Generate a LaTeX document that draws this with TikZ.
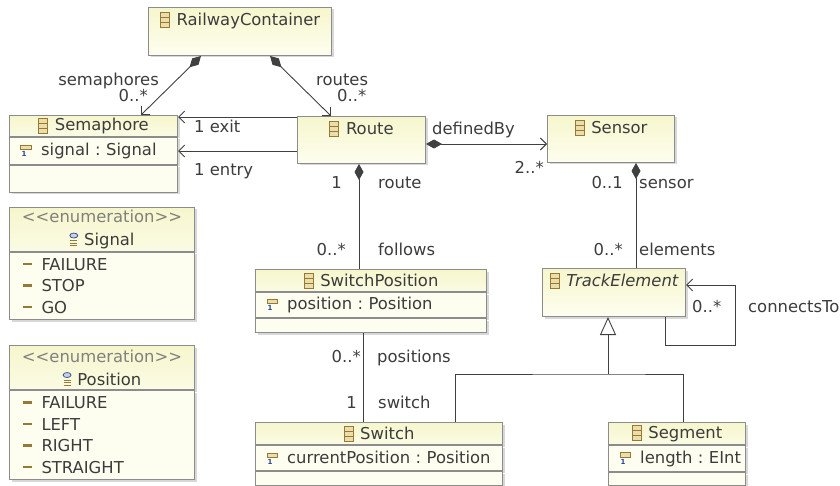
\documentclass[tikz,border=0pt]{standalone}
\usepackage{fontspec}
\setmainfont{DejaVu Sans}
\usetikzlibrary{positioning}
\usetikzlibrary{arrows.meta}
\usetikzlibrary{shadows}

\definecolor{boxline}{RGB}{140,140,140}
\definecolor{wirecol}{RGB}{64,64,64}
\definecolor{ink}{RGB}{60,60,60}
\definecolor{stereo}{RGB}{128,128,128}
\definecolor{hdtop}{RGB}{246,246,205}
\definecolor{hdbot}{RGB}{251,251,228}
\definecolor{rowfill}{RGB}{254,254,240}
\definecolor{icnbrown}{RGB}{150,120,55}
\definecolor{icnfill}{RGB}{236,222,170}
\definecolor{iconblue}{RGB}{40,70,140}

\newcommand{\clsicon}{\tikz[baseline=0pt]{\draw[icnbrown, fill=icnfill, line width=0.7pt] (0pt,-2pt) rectangle (9pt,13pt); \draw[icnbrown, line width=0.7pt] (0pt,3pt) -- (9pt,3pt) (0pt,8pt) -- (9pt,8pt);}}
\newcommand{\attricon}{\rlap{\raisebox{-1pt}{\fontsize{7}{7}\selectfont\bfseries\color{iconblue}\hspace{1pt}1}}\tikz[baseline=0pt]{\draw[icnbrown, fill=icnfill, line width=0.7pt] (0pt,6pt) rectangle (10pt,10.5pt);}}
\newcommand{\liticon}{\tikz[baseline=0pt]{\fill[icnbrown] (0pt,5pt) rectangle (9pt,7.5pt);}}
\newcommand{\enumicon}{\tikz[baseline=0pt]{\draw[icnbrown, line width=0.8pt] (1pt,0pt) -- (8pt,0pt) (1pt,2.5pt) -- (8pt,2.5pt) (1pt,5pt) -- (8pt,5pt); \draw[iconblue, fill=iconblue!25, line width=0.7pt] (4.5pt,10pt) ellipse [x radius=4pt, y radius=2.5pt];}}
\newcommand{\lit}[1]{\mbox{\hspace*{8pt}\liticon\hspace*{10pt}#1}}
\newcommand{\attr}[1]{\mbox{\hspace*{6pt}\attricon\hspace*{10pt}#1}}
\newcommand{\stereotype}{{\color{stereo}<\kern0pt<enumeration>\kern0pt>}}

\tikzstyle{classbase} = [draw=boxline, line width=1pt, text=ink, font=\fontsize{16.4}{21.5}\selectfont\frenchspacing, inner xsep=5pt, inner ysep=0pt, drop shadow={shadow xshift=2pt, shadow yshift=-2pt, fill=black!30}]
\tikzstyle{classhead} = [classbase, top color=hdtop, bottom color=hdbot, align=center, minimum height=22pt]
\tikzstyle{enumhead} = [classhead, font=\fontsize{16.4}{23}\selectfont, minimum height=44pt]
\tikzstyle{classrow} = [classbase, fill=rowfill, align=left, minimum height=25pt]
\tikzstyle{plainclass} = [classbase, top color=hdtop, bottom color=rowfill, align=center, inner ysep=3pt, text height=15pt, text depth=27pt]
\tikzstyle{lbl} = [text=ink, font=\fontsize{16.4}{20}\selectfont, inner sep=0pt]
\tikzstyle{wire} = [draw=wirecol, line width=0.9pt]
\tikzstyle{assoc} = [wire, -{Straight Barb[length=6pt,width=12pt]}]
\tikzstyle{comp} = [wire, {Diamond[length=16pt,width=9pt]}-]
\tikzstyle{compnav} = [wire, {Diamond[length=16pt,width=9pt]}-{Straight Barb[length=6pt,width=12pt]}]
\tikzstyle{gen} = [wire, -{Triangle[open, length=18pt, width=16pt]}]

\begin{document}
\begin{tikzpicture}[x=1pt, y=-1pt]
  \useasboundingbox (0,0) rectangle (840,486);

  \node[plainclass, text width=173pt, anchor=north west] (rc) at (148,7) {\clsicon\hspace{7pt}RailwayContainer};

  \node[classhead, text width=158pt, minimum height=21pt, anchor=north west] (sem) at (9,115) {\clsicon\hspace{7pt}Semaphore};
  \node[classrow, text width=158pt, minimum height=27pt, below=0pt of sem] (semAttr) {\attr{signal : Signal}};
  \node[classrow, text width=158pt, minimum height=27pt, below=0pt of semAttr] (semOps) {};

  \node[plainclass, text width=118pt, text depth=26pt, anchor=north west] (route) at (297,116) {\clsicon\hspace{7pt}Route};
  \node[plainclass, text width=117pt, text depth=26pt, anchor=north west] (sensor) at (547,115) {\clsicon\hspace{7pt}Sensor};
  \node[plainclass, text width=133pt, anchor=north west] (te) at (542,268) {\clsicon\hspace{7pt}\itshape TrackElement};

  \node[classhead, text width=221pt, anchor=north west] (swpos) at (255,269) {\clsicon\hspace{7pt}SwitchPosition};
  \node[classrow, text width=221pt, below=0pt of swpos] (swposAttr) {\attr{position : Position}};
  \node[classrow, text width=221pt, minimum height=14pt, below=0pt of swposAttr] (swposOps) {};

  \node[classhead, text width=237pt, anchor=north west] (sw) at (255,422) {\clsicon\hspace{7pt}Switch};
  \node[classrow, text width=237pt, below=0pt of sw] (swAttr) {\attr{currentPosition : Position}};
  \node[classrow, text width=237pt, minimum height=14pt, below=0pt of swAttr] (swOps) {};

  \node[classhead, text width=127pt, anchor=north west] (seg) at (608,422) {\clsicon\hspace{7pt}Segment};
  \node[classrow, text width=127pt, minimum height=26pt, below=0pt of seg] (segAttr) {\attr{length : EInt}};
  \node[classrow, text width=127pt, minimum height=13pt, below=0pt of segAttr] (segOps) {};

  % enumerations
  \node[enumhead, text width=175pt, anchor=north west] (sigEnum) at (9,207) {\stereotype\\ \mbox{\enumicon\hspace{6pt}Signal}};
  \node[classrow, text width=175pt, minimum height=67pt, below=0pt of sigEnum] (sigLits) {\lit{FAILURE}\\ \lit{STOP}\\ \lit{GO}};

  \node[enumhead, text width=175pt, anchor=north west] (posEnum) at (9,345) {\stereotype\\ \mbox{\enumicon\hspace{6pt}Position}};
  \node[classrow, text width=175pt, minimum height=89pt, below=0pt of posEnum] (posLits) {\lit{FAILURE}\\ \lit{LEFT}\\ \lit{RIGHT}\\ \lit{STRAIGHT}};

  % connector end points
  \coordinate (exitPt) at ([yshift=-1pt]route.north west);
  \coordinate (defPt) at ([yshift=-28pt]route.north east);
  \coordinate (rtPt) at ([xshift=62pt]route.south west);
  \coordinate (snPt) at ([xshift=89pt]sensor.south west);
  \coordinate (spPt) at ([xshift=108pt]swposOps.south west);
  \coordinate (genJoin) at ([xshift=66pt, yshift=-57pt]te.south west);
  \coordinate (loopTurn) at ([xshift=193pt, yshift=-28pt]te.south west);

  \draw[compnav] ([xshift=53pt]rc.south west) -- ([xshift=132pt]sem.north west);
  \draw[compnav] ([xshift=122pt]rc.south west) -- ([xshift=34pt]route.north west);
  \draw[assoc] (exitPt) -- (exitPt -| sem.east);
  \draw[assoc] (route.west |- semAttr.east) -- (semAttr.east);
  \draw[compnav] (defPt) -- (defPt -| sensor.west);
  \draw[comp] (rtPt) -- (rtPt |- swpos.north);
  \draw[comp] (snPt) -- (snPt |- te.north);
  \draw[wire] (spPt) -- (spPt |- sw.north);
  \draw[wire] ([xshift=200pt]sw.north west) |- (genJoin) -| ([xshift=75pt]seg.north west);
  \draw[gen] (genJoin) -- (genJoin |- te.south);
  \draw[assoc] ([xshift=123pt]te.south west) |- (loopTurn) |- ([yshift=-17pt]te.north east);

  % role names and multiplicities
  \node[lbl, anchor=base east] (semRole) at (159,86) {semaphores};
  \node[lbl, anchor=base east] (semMult) at (148,102) {0..*};
  \node[lbl, anchor=base west] (rtRole) at (316,86) {routes};
  \node[lbl, anchor=base west] (rtMult) at (337,102) {0..*};
  \node[lbl, anchor=base west] (exitLbl) at (194,133) {1 exit};
  \node[lbl, anchor=base west] (entryLbl) at (194,176) {1 entry};
  \node[lbl, anchor=base west] (defRole) at (432,135) {definedBy};
  \node[lbl, anchor=base east] (defMult) at (544,174) {2..*};
  \node[lbl, anchor=base east] (routeMult) at (342,189) {1};
  \node[lbl, anchor=base west] (routeRole) at (378,189) {route};
  \node[lbl, anchor=base east] (followsMult) at (346,255) {0..*};
  \node[lbl, anchor=base west] (followsRole) at (378,255) {follows};
  \node[lbl, anchor=base east] (sensorMult) at (623,189) {0..1};
  \node[lbl, anchor=base west] (sensorRole) at (639,189) {sensor};
  \node[lbl, anchor=base east] (elemMult) at (623,255) {0..*};
  \node[lbl, anchor=base west] (elemRole) at (639,255) {elements};
  \node[lbl, anchor=base west] (connMult) at (692,312) {0..*};
  \node[lbl, anchor=base west] (connRole) at (748,312) {connectsTo};
  \node[lbl, anchor=base east] (posMult) at (361,362) {0..*};
  \node[lbl, anchor=base west] (posRole) at (377,362) {positions};
  \node[lbl, anchor=base east] (switchMult) at (357,408) {1};
  \node[lbl, anchor=base west] (switchRole) at (378,408) {switch};
\end{tikzpicture}
\end{document}
